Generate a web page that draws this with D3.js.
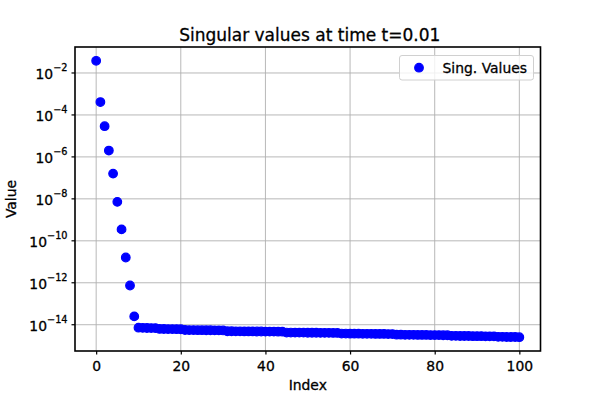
<!DOCTYPE html>
<html>
<head>
<meta charset="utf-8">
<script src="https://cdn.jsdelivr.net/npm/d3@7"></script>
<style>
  body { margin: 0; background: #fff; }
  svg { display: block; font-family: "DejaVu Sans", sans-serif; }
  svg text { stroke: #000; stroke-width: 0.3px; }
</style>
</head>
<body>
<svg id="chart" width="600" height="400"></svg>
<script>
'use strict';

var chartTitle = 'Singular values at time t=0.01',
    xLabel = 'Index',
    yLabel = 'Value',
    seriesName = 'Sing. Values',
    xTicks = [0, 20, 40, 60, 80, 100],
    yTickExps = [-2, -4, -6, -8, -10, -12, -14];

// singular values (index 0..100)
var singularValues = [
  3.8e-2, 4.1e-4, 2.9e-5, 2.0e-6, 1.6e-7, 7.2e-9, 3.5e-10, 1.6e-11, 7.4e-13, 2.5e-14,
  7.2e-15, 7.1e-15, 7.0e-15, 6.95e-15, 6.9e-15,
  6.3e-15, 6.25e-15, 6.2e-15, 6.2e-15, 6.15e-15, 6.1e-15,
  5.6e-15, 5.55e-15, 5.55e-15, 5.5e-15, 5.5e-15, 5.45e-15, 5.45e-15, 5.4e-15, 5.4e-15, 5.35e-15,
  4.9e-15, 4.9e-15, 4.85e-15, 4.85e-15, 4.8e-15, 4.8e-15, 4.8e-15, 4.75e-15, 4.75e-15, 4.7e-15,
  4.7e-15, 4.7e-15, 4.65e-15, 4.65e-15,
  4.25e-15, 4.25e-15, 4.2e-15, 4.2e-15, 4.2e-15, 4.15e-15, 4.15e-15, 4.15e-15, 4.1e-15, 4.1e-15,
  4.1e-15, 4.05e-15, 4.05e-15,
  3.8e-15, 3.8e-15, 3.75e-15, 3.75e-15, 3.75e-15, 3.7e-15, 3.7e-15, 3.7e-15, 3.65e-15, 3.65e-15,
  3.65e-15, 3.6e-15, 3.6e-15,
  3.35e-15, 3.35e-15, 3.3e-15, 3.3e-15, 3.3e-15, 3.25e-15, 3.25e-15, 3.25e-15, 3.2e-15, 3.2e-15,
  3.2e-15, 3.15e-15, 3.15e-15,
  2.95e-15, 2.95e-15, 2.9e-15, 2.9e-15, 2.9e-15, 2.85e-15, 2.85e-15, 2.85e-15, 2.8e-15, 2.8e-15,
  2.8e-15,
  2.65e-15, 2.65e-15, 2.6e-15, 2.6e-15, 2.6e-15, 2.55e-15
];

var points = singularValues.map(function (v, i) { return { index: i, value: v }; });

var box = { left: 75, right: 540.5, top: 47, bottom: 351 },
    fs = 13.9,
    svg = d3.select('#chart');

// matplotlib style 5% margins (log space for y)
var xExt = d3.extent(points, function (d) { return d.index; }),
    xPad = (xExt[1] - xExt[0]) * 0.05,
    lyExt = d3.extent(points, function (d) { return Math.log10(d.value); }),
    lyPad = (lyExt[1] - lyExt[0]) * 0.05;

var x = d3.scaleLinear()
  .domain([xExt[0] - xPad, xExt[1] + xPad])
  .range([box.left, box.right]);

var y = d3.scaleLog()
  .domain([Math.pow(10, lyExt[0] - lyPad), Math.pow(10, lyExt[1] + lyPad)])
  .range([box.bottom, box.top]);

// grid
var grid = svg.append('g').attr('stroke', '#b0b0b0').attr('stroke-width', 0.9);
grid.selectAll('.gx').data(xTicks).enter().append('line')
  .attr('x1', function (d) { return x(d); }).attr('x2', function (d) { return x(d); })
  .attr('y1', box.top).attr('y2', box.bottom);
grid.selectAll('.gy').data(yTickExps).enter().append('line')
  .attr('x1', box.left).attr('x2', box.right)
  .attr('y1', function (d) { return y(Math.pow(10, d)); })
  .attr('y2', function (d) { return y(Math.pow(10, d)); });

// points
svg.append('g').selectAll('circle').data(points).enter().append('circle')
  .attr('cx', function (d) { return x(d.index); })
  .attr('cy', function (d) { return y(d.value); })
  .attr('r', 4.3)
  .attr('fill', '#0000ff')
  .attr('stroke', '#0000ff')
  .attr('stroke-width', 1.2);

// x axis
var xAxis = d3.axisBottom(x).tickValues(xTicks).tickSize(3.5).tickPadding(7);
var gx = svg.append('g').attr('transform', 'translate(0,' + box.bottom + ')').call(xAxis);
gx.select('.domain').remove();
gx.selectAll('text').attr('font-size', fs).attr('fill', '#000').attr('font-family', '"DejaVu Sans", sans-serif');
gx.selectAll('line').attr('stroke', '#000').attr('stroke-width', 1.2);

// y axis with 10^n labels
var gy = svg.append('g');
var yt = gy.selectAll('.yt').data(yTickExps).enter().append('g')
  .attr('transform', function (d) { return 'translate(0,' + y(Math.pow(10, d)) + ')'; });
yt.append('line').attr('x1', box.left - 3.5).attr('x2', box.left).attr('stroke', '#000').attr('stroke-width', 1.2);
var lbl = yt.append('text')
  .attr('x', box.left - 7.5)
  .attr('y', 6)
  .attr('text-anchor', 'end')
  .attr('font-size', fs)
  .attr('fill', '#000');
lbl.append('tspan').text('10');
lbl.append('tspan')
  .attr('dy', -7.5)
  .attr('font-size', fs * 0.7)
  .text(function (d) { return '\u2212' + Math.abs(d); });

// spines
svg.append('rect')
  .attr('x', box.left).attr('y', box.top)
  .attr('width', box.right - box.left).attr('height', box.bottom - box.top)
  .attr('fill', 'none').attr('stroke', '#000').attr('stroke-width', 1.6);

// labels
svg.append('text').attr('x', (box.left + box.right) / 2 + 2).attr('y', 40.5)
  .attr('text-anchor', 'middle').attr('font-size', 17).text(chartTitle);
svg.append('text').attr('x', (box.left + box.right) / 2).attr('y', 389.5)
  .attr('text-anchor', 'middle').attr('font-size', fs).text(xLabel);
svg.append('text').attr('transform', 'translate(16,' + (box.top + box.bottom) / 2 + ') rotate(-90)')
  .attr('text-anchor', 'middle').attr('font-size', fs).text(yLabel);

// legend
var lg = svg.append('g');
lg.append('rect')
  .attr('x', 399.5).attr('y', 55.5).attr('width', 134).attr('height', 24.5)
  .attr('rx', 2.5).attr('fill', '#fff').attr('fill-opacity', 0.8)
  .attr('stroke', '#d0d0d0').attr('stroke-width', 1);
lg.append('circle').attr('cx', 419).attr('cy', 67.7).attr('r', 4.3)
  .attr('fill', '#0000ff').attr('stroke', '#0000ff').attr('stroke-width', 1.2);
lg.append('text').attr('x', 442.5).attr('y', 72.5).attr('font-size', fs).text(seriesName);
</script>
</body>
</html>
